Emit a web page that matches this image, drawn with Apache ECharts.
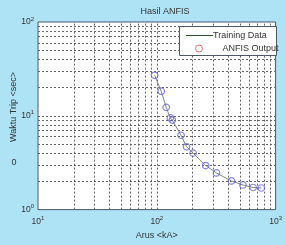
<!DOCTYPE html>
<html>
<head>
<meta charset="utf-8">
<script src="https://cdn.jsdelivr.net/npm/echarts@6/dist/echarts.min.js"></script>
<style>
html,body{margin:0;padding:0;background:#aee3f5;}
#c{width:285px;height:245px;}
</style>
</head>
<body>
<div id="c"></div>
<script>
// Data
var current = [96, 109, 120, 130, 135, 160, 178, 202, 258, 318, 425, 531, 646, 758];
var tripTime = [27, 18.3, 12.3, 9.5, 9.0, 6.2, 4.67, 4.0, 2.95, 2.46, 2.02, 1.83, 1.72, 1.70];
var xGridValues = [20,30,40,50,60,70,80,90,100,200,300,400,500,600,700,800,900];
var yGridValues = [2,3,4,5,6,7,8,9,10,20,30,40,50,60,70,80,90];

var FONT = 'Liberation Sans, Arial, sans-serif';
var chart = echarts.init(document.getElementById('c'), null, {renderer:'canvas'});

function pow10Label(v){
  var e = Math.round(Math.log10(v));
  return '{b|10}{s|' + e + '}';
}
var richLab = {
  b:{fontSize:8.5, color:'#333', fontFamily:FONT},
  s:{fontSize:6, color:'#333', fontFamily:FONT, verticalAlign:'top', padding:[0,0,6,0]}
};

var lineData = current.map(function(c,i){return [c, tripTime[i]];});
var gridMarks = xGridValues.map(function(v){return {xAxis:v};})
  .concat(yGridValues.map(function(v){return {yAxis:v};}));

chart.setOption({
  backgroundColor:'#aee3f5',
  animation:false,
  title:{text:'Hasil ANFIS', left:160, top:2, textAlign:'center',
    textStyle:{fontSize:9, fontWeight:'normal', color:'#333', fontFamily:FONT}},
  grid:{left:38, right:9, top:22, bottom:29.5, show:true, backgroundColor:'#fff',
    borderColor:'#4a5868', borderWidth:1},
  xAxis:{type:'log', min:10, max:1000, logBase:10,
    name:'Arus <kA>', nameLocation:'middle', nameGap:17,
    nameTextStyle:{fontSize:9, color:'#333', fontFamily:FONT},
    axisLine:{show:false}, axisTick:{show:false}, splitLine:{show:false},
    axisLabel:{formatter:pow10Label, rich:richLab, margin:6, showMaxLabel:true}},
  yAxis:{type:'log', min:1, max:100, logBase:10,
    axisLine:{show:false}, axisTick:{show:false}, splitLine:{show:false},
    axisLabel:{formatter:pow10Label, rich:richLab, margin:4}},
  legend:[
    {data:[{name:'Training Data', icon:'rect', itemStyle:{color:'#2f4f2f'}}],
      left:186, top:31, itemWidth:27, itemHeight:1, z:8, itemGap:0,
      selectedMode:false, padding:0,
      textStyle:{fontSize:9, color:'#333', fontFamily:FONT, padding:[0,0,0,-5]}},
    {data:[{name:'ANFIS Output', icon:'circle',
      itemStyle:{color:'#fff', borderColor:'#e05050', borderWidth:1}}],
      left:195, top:44, itemWidth:7, itemHeight:7, selectedMode:false, padding:0, z:8,
      textStyle:{fontSize:9, color:'#333', fontFamily:FONT, padding:[0,0,0,15]}}
  ],
  graphic:[
    {type:'rect', left:179, top:26, shape:{width:97, height:29}, z:6,
      style:{fill:'#fff', stroke:'#4a5868', lineWidth:1}},
    {type:'text', x:14, y:107, rotation:Math.PI/2, z:10,
      style:{text:'Waktu Trip <sec>', fill:'#333', font:'9px '+FONT, align:'center', verticalAlign:'middle'}},
    {type:'text', x:14, y:163, z:10,
      style:{text:'0', fill:'#333', font:'9px '+FONT, align:'center', verticalAlign:'middle'}}
  ],
  series:[
    {name:'_grid', type:'line', data:[], z:1, silent:true,
      markLine:{z:1, silent:true, symbol:'none', label:{show:false}, animation:false,
        lineStyle:{color:'#666', type:[2,2], width:1}, emphasis:{disabled:true},
        data:gridMarks}},
    {name:'Training Data', type:'line', data:lineData, showSymbol:false, symbol:'none',
      lineStyle:{color:'#7a8a7a', width:1}, itemStyle:{color:'#3a5a3a'}, z:3, silent:true},
    {name:'ANFIS Output', type:'scatter', data:lineData, symbol:'circle', symbolSize:6.5,
      itemStyle:{color:'rgba(255,255,255,0)', borderColor:'#6464d8', borderWidth:1.2}, z:4, silent:true}
  ]
});
</script>
</body>
</html>
